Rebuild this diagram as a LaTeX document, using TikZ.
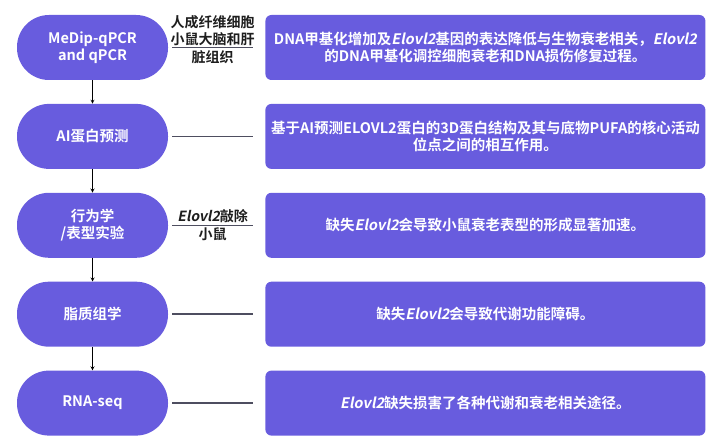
\documentclass[tikz,border=0pt]{standalone}
\usepackage{fontspec}
\setmainfont{Noto Sans CJK SC}[BoldFont={* Bold},BoldItalicFont={* Bold},BoldItalicFeatures={FakeSlant=0.2}]
\usepackage{tikz}
\usepackage{xcolor}
\usetikzlibrary{arrows,positioning}
\definecolor{method}{RGB}{104, 92, 222}
\definecolor{wire}{RGB}{78, 78, 96}
\definecolor{ink}{RGB}{30, 30, 30}
\newcommand{\gene}{\textit{Elovl2}}
\tikzstyle{arrow} = [
    thick,
    -stealth,
    draw=black
]
\tikzstyle{link} = [
    line width=1.5pt,
    draw=wire,
    shorten <=4pt,
    shorten >=12pt
]
\tikzstyle{stage} = [
    rectangle,
    rounded corners=32pt,
    minimum width=151pt,
    minimum height=65pt,
    align=center,
    fill=method,
    text=white,
    font=\bfseries\fontsize{14.5}{17}\selectfont
]
\tikzstyle{finding} = [
    rectangle,
    rounded corners=6pt,
    minimum width=440pt,
    minimum height=65pt,
    align=center,
    fill=method,
    text=white,
    font=\bfseries\fontsize{14.5}{17}\selectfont
]
\tikzstyle{tag} = [
    align=center,
    text=ink,
    inner sep=0pt,
    font=\bfseries\fontsize{14}{17.5}\selectfont
]
\begin{document}
\begin{tikzpicture}[x=1pt, y=1pt, node distance=23.5pt]
    \useasboundingbox (0,0) rectangle (720,-443);
    % methods
    \node[stage] (medip) at (92.5,-47.5) {MeDip-qPCR\\and qPCR};
    \node[stage, below=of medip] (aipred) {AI蛋白预测};
    \node[stage, below=of aipred] (behav) {行为学\\/表型实验};
    \node[stage, below=of behav] (lipid) {脂质组学};
    \node[stage, below=of lipid] (rnaseq) {RNA-seq};
    % findings
    \node[finding, right=97pt of medip] (dna) {DNA甲基化增加及\gene{}基因的表达降低与生物衰老相关，\gene\\的DNA甲基化调控细胞衰老和DNA损伤修复过程。};
    \node[finding, right=97pt of aipred] (struct) {基于AI预测ELOVL2蛋白的3D蛋白结构及其与底物PUFA的核心活动\\位点之间的相互作用。};
    \node[finding, right=97pt of behav] (ageing) {缺失\gene{}会导致小鼠衰老表型的形成显著加速。};
    \node[finding, right=97pt of lipid] (metab) {缺失\gene{}会导致代谢功能障碍。};
    \node[finding, right=97pt of rnaseq] (paths) {\gene{}缺失损害了各种代谢和衰老相关途径。};

    \draw[arrow] (medip) -- (aipred);
    \draw[arrow] (aipred) -- (behav);
    \draw[arrow] (behav) -- (lipid);
    \draw[arrow] (lipid) -- (rnaseq);

    \draw[link] (medip) -- node[tag, yshift=8pt, xshift=-4pt] {人成纤维细胞\\小鼠大脑和肝\\脏组织} (dna);
    \draw[link] (aipred) -- (struct);
    \draw[link] (behav) -- node[tag, xshift=-4pt] {\gene{}敲除\\小鼠} (ageing);
    \draw[link] (lipid) -- (metab);
    \draw[link] (rnaseq) -- (paths);
\end{tikzpicture}
\end{document}
